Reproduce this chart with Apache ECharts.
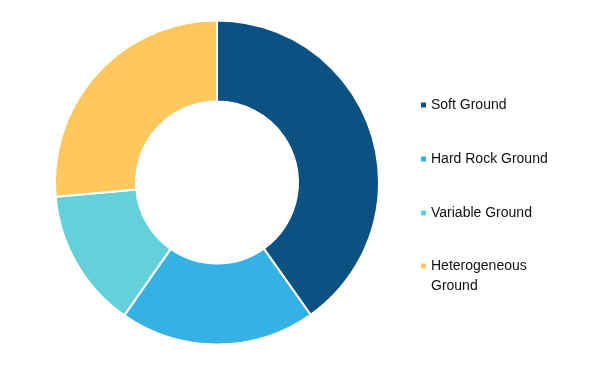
<!DOCTYPE html>
<html><head><meta charset="utf-8">
<script src="https://cdn.jsdelivr.net/npm/echarts@6/dist/echarts.min.js"></script>
<style>html,body{margin:0;padding:0;background:#fff}#c{width:603px;height:369px}</style>
</head><body><div id="c"></div>
<script>
const categories = ['Soft Ground', 'Hard Rock Ground', 'Variable Ground', 'Heterogeneous Ground'];
const values = [40.2, 19.5, 13.9, 26.4];
const colors = ['#0b5282', '#36b1e4', '#64d0d9', '#fec85e'];
const legendLabels = ['Soft Ground', 'Hard Rock Ground', 'Variable Ground', '\nHeterogeneous\nGround'];
const legendCenters = [100, 154, 208, 261];

const chart = echarts.init(document.getElementById('c'), null, {renderer: 'canvas'});
const legends = categories.map((name, i) => {
  const lines = legendLabels[i].split('\n').length;
  return {
    orient: 'vertical', left: 414, top: legendCenters[i] - lines * 10,
    data: [name], icon: 'rect', itemWidth: 7, itemHeight: 7, itemGap: 0,
    selectedMode: false,
    formatter: () => legendLabels[i],
    textStyle: {fontFamily: 'Liberation Sans, Arial, sans-serif', fontSize: 14, color: '#111', lineHeight: 20, padding: [0,0,0,-1]}
  };
});
chart.setOption({
  animation: false,
  color: colors,
  legend: legends,
  series: [{
    type: 'pie',
    center: [217, 182.5],
    radius: [81, 162],
    startAngle: 90,
    clockwise: true,
    label: {show: false},
    labelLine: {show: false},
    itemStyle: {borderColor: '#fff', borderWidth: 2},
    emphasis: {disabled: true},
    data: categories.map((n, i) => ({name: n, value: values[i]}))
  }]
});
</script></body></html>
